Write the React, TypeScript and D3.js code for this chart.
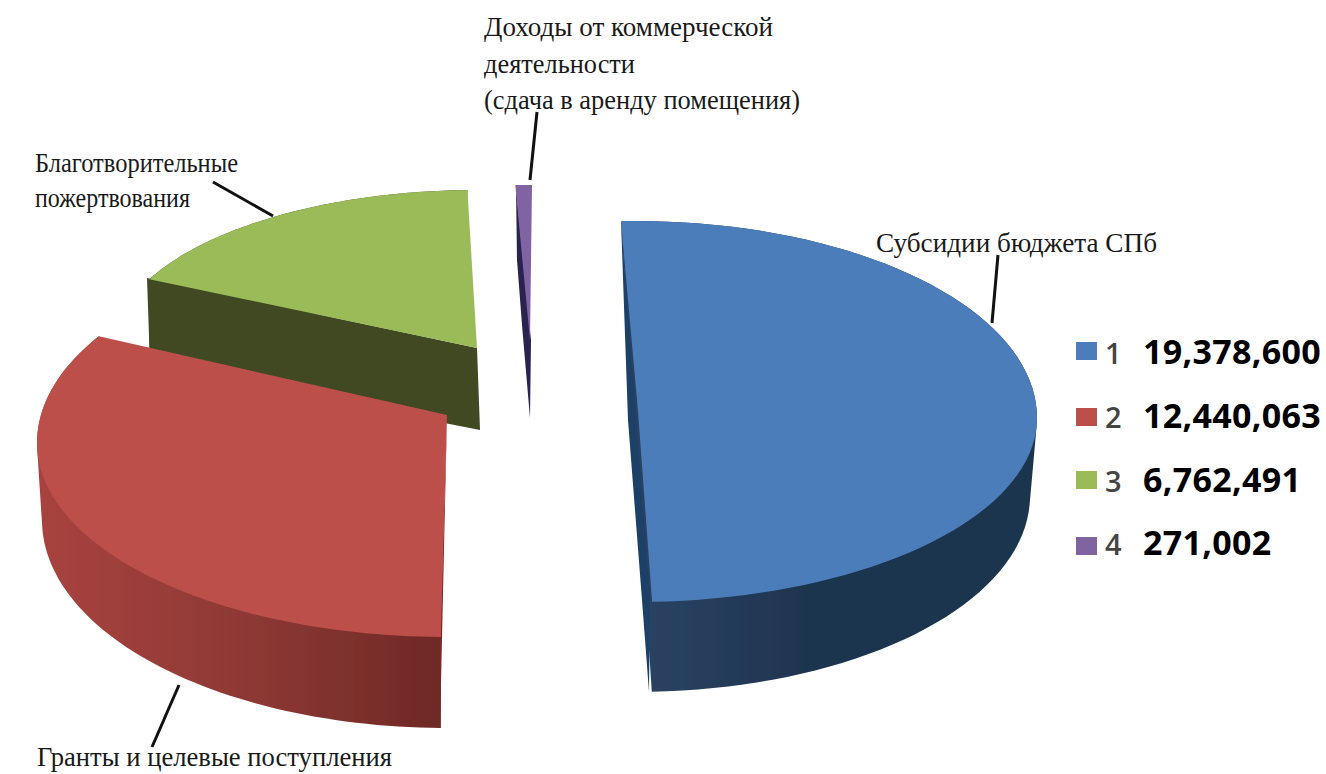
import React from 'react';
import * as d3 from 'd3';

const categories = ['1', '2', '3', '4'];
const values = [19378600, 12440063, 6762491, 271002];
const valueLabels = ['19,378,600', '12,440,063', '6,762,491', '271,002'];
const topColors = ['#4c7dba', '#bd4f4b', '#9bbb59', '#8064a2'];
const innerColors = ['#1d3f66', '#7a2b29', '#404a23', '#2c2350'];

// how each exploded slice lands on the page (the picture has perspective, so one ellipse won't do)
const frames = [
  {
    apex: [638, 411], shift: -2, scale: 1,
    top: { cx: 635, cy: 418, rx: 402, back: 197, front: 184 },
    base: { cx: 635, cy: 496, rx: 395, back: 275, front: 196 },
    inner: [[621, 221], [628, 420], [642, 600], [649, 692], [650, 602]],
  },
  {
    apex: [447, 415], shift: 1.3, scale: 1.05,
    top: { cx: 447, cy: 443, rx: 410, back: 202, front: 194 },
    base: { cx: 447, cy: 520, rx: 405, back: 230, front: 208 },
    inner: [[447, 415], [440, 637], [440, 728]],
  },
  {
    apex: [477, 348], shift: 1, scale: 1,
    top: { cx: 477, cy: 348, rx: 364, back: 158, front: 158 },
    base: { cx: 477, cy: 430, rx: 364, back: 158, front: 158 },
    inner: [[147, 278], [477, 348], [480, 430], [150, 365]],
  },
  {
    apex: [530, 340], shift: 0.3, scale: 1,
    top: { cx: 530, cy: 350, rx: 380, back: 165, front: 165 },
    base: { cx: 530, cy: 350, rx: 380, back: 165, front: 165 },
    inner: [[516, 187], [517, 260], [522, 325], [530, 418], [531, 340]],
  },
];
const wallFills = ['url(#wall0)', 'url(#wall1)', '#404a23', '#2c2350'];

// width is what the label measures in the reference, the serif there is set tighter or looser per line
const labels = [
  { x: 484, y: 36, width: 289, text: 'Доходы от коммерческой' },
  { x: 484, y: 73, width: 151, text: 'деятельности' },
  { x: 484, y: 109, width: 316, text: '(сдача в аренду помещения)' },
  { x: 35, y: 172, width: 203, text: 'Благотворительные' },
  { x: 35, y: 207, width: 155, text: 'пожертвования' },
  { x: 876, y: 252, width: 281, text: 'Субсидии бюджета СПб' },
  { x: 37, y: 766, width: 355, text: 'Гранты и целевые поступления' },
];
const leaders = [
  [537, 112, 530, 180],
  [213, 182, 273, 216],
  [998, 255, 992, 323],
  [179, 685, 152, 747],
];
const baselineY = [364, 428, 492, 555];
const swatchY = [351, 417, 480, 546];

const pie = d3.pie<number>().sort(null);
const arcs = pie(values);
const line = d3.line<number[]>().x(d => d[0]).y(d => d[1]);

const rimPoint = (e: any, a: number) => {
  const c = Math.cos(a);
  return [e.cx + e.rx * Math.sin(a), e.cy - (c > 0 ? e.back : e.front) * c];
};

const App = () => {
  const slices = arcs.map((arc, i) => {
    const f = frames[i];
    const a0 = arc.startAngle + (f.shift * Math.PI) / 180;
    const a1 = a0 + (arc.endAngle - arc.startAngle) * f.scale;
    const angles = d3.range(0, 81).map(k => a0 + ((a1 - a0) * k) / 80);
    const topRim = angles.map(a => rimPoint(f.top, a));
    const baseRim = angles.map(a => rimPoint(f.base, a));
    // hull of both rims gives the outer wall, the top face hides the rest
    const hull = d3.polygonHull([...topRim, ...baseRim] as [number, number][]);
    return {
      top: line([f.apex, ...topRim]) + 'Z',
      wall: hull ? line(hull) + 'Z' : '',
      inner: line(f.inner) + 'Z',
    };
  });

  // draw back slices first, red has to sit over the green wall
  const order = [3, 2, 1, 0];

  return (
    <svg width={1326} height={774} style={{ position: 'absolute', left: 0, top: 0 }}>
      <defs>
        <linearGradient id="wall0" gradientUnits="userSpaceOnUse" x1={650} y1={0} x2={1035} y2={0}>
          <stop offset="0" stopColor="#2a4262" />
          <stop offset="0.4" stopColor="#1f3450" />
          <stop offset="1" stopColor="#1f3450" />
        </linearGradient>
        <linearGradient id="wall1" gradientUnits="userSpaceOnUse" x1={37} y1={0} x2={440} y2={0}>
          <stop offset="0" stopColor="#a8433f" />
          <stop offset="0.5" stopColor="#8f3935" />
          <stop offset="1" stopColor="#6f2926" />
        </linearGradient>
        <filter id="soft" x="-5%" y="-5%" width="110%" height="110%">
          <feGaussianBlur stdDeviation="0.7" />
        </filter>
      </defs>

      <g filter="url(#soft)">
        {order.map(i => (
          <g key={categories[i]}>
            <path d={slices[i].wall} fill={wallFills[i]} />
            <path d={slices[i].inner} fill={innerColors[i]} />
            <path d={slices[i].top} fill={topColors[i]} />
          </g>
        ))}
      </g>

      {leaders.map((l, i) => (
        <line key={i} x1={l[0]} y1={l[1]} x2={l[2]} y2={l[3]} stroke="#111" strokeWidth={3} />
      ))}

      <g fontFamily="'Liberation Serif', serif" fontSize={27} fill="#1a1a1a">
        {labels.map(l => (
          <text key={l.text} x={l.x} y={l.y} textLength={l.width} lengthAdjust="spacingAndGlyphs">{l.text}</text>
        ))}
      </g>

      {categories.map((c, i) => (
        <g key={c}>
          <rect x={1076} y={swatchY[i] - 9} width={21} height={18} fill={topColors[i]} />
          <text x={1105} y={baselineY[i]} fontFamily="'Open Sans', sans-serif" fontWeight={600} fontSize={29} fill="#444">{c}</text>
          <text x={1143} y={baselineY[i]} fontFamily="'Open Sans', sans-serif" fontWeight={700} fontSize={34} letterSpacing={0.3} fill="#000">{valueLabels[i]}</text>
        </g>
      ))}
    </svg>
  );
};

export default App;
